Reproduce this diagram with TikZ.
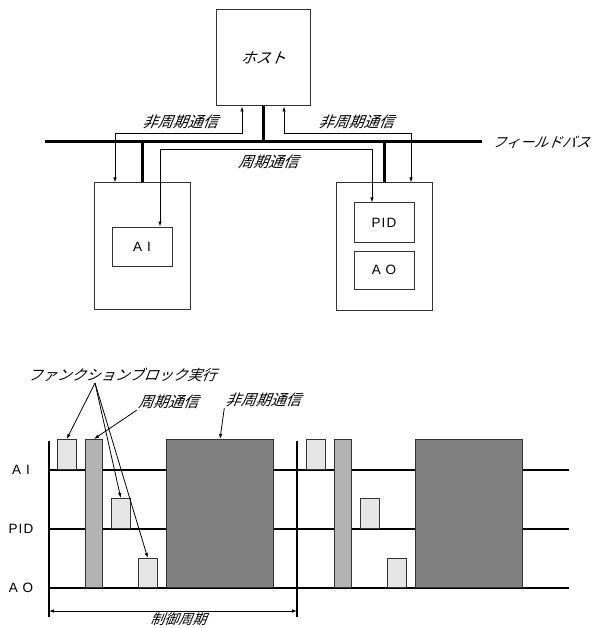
\documentclass[tikz,border=0pt]{standalone}
\usepackage{fontspec}
\setsansfont{Liberation Sans}
\newfontfamily\jpfont[FakeSlant=0.4]{Noto Sans CJK JP}
\newfontfamily\labfont[LetterSpace=8]{Liberation Sans}
\usetikzlibrary{arrows.meta}
\definecolor{ink}{HTML}{333333}
\definecolor{fbgray}{HTML}{E6E6E6}
\definecolor{cycgray}{HTML}{B3B3B3}
\definecolor{asgray}{HTML}{808080}

\begin{document}
\begin{tikzpicture}[x=1pt,y=-1pt,>={Latex[length=5pt,width=3.5pt]},
  box/.style={draw=ink,line width=1pt,inner sep=0pt},
  bus/.style={line width=3pt},
  wire/.style={line width=0.8pt},
  jp/.style={font=\jpfont\fontsize{15}{15}\selectfont,inner sep=1pt},
  lab/.style={font=\labfont\fontsize{13.5}{14}\selectfont},
  row/.style={line width=1.2pt},
  fb/.style={box,fill=fbgray,anchor=south west,minimum width=18.5pt},
  cyc/.style={box,fill=cycgray,anchor=south west,minimum width=17pt,minimum height=148pt},
  async/.style={box,fill=asgray,anchor=south west,minimum width=107pt,minimum height=148pt}]
 \useasboundingbox (0,0) rectangle (596,628);
 \node[box,jp,minimum width=94pt,minimum height=96pt] (host) at (263,58) {ホスト};
 \node[box,minimum width=96pt,minimum height=126pt] (devL) at (142,246) {};
 \node[box,minimum width=96pt,minimum height=127pt] (devR) at (384,246.5) {};
 \node[box,lab,minimum width=60pt,minimum height=39pt] (ai) at (142,246.5) {A I};
 \node[box,lab,minimum width=60pt,minimum height=39pt] (pid) at (384,222.5) {PID};
 \node[box,lab,minimum width=60pt,minimum height=38pt] (ao) at (384,270) {A O};
 \coordinate (busL) at (45,142);
 \coordinate (busR) at (482,142);
 \draw[bus] (busL) -- (busR);
 \node[jp,font=\jpfont\fontsize{14}{14}\selectfont,anchor=west] (fbus) at (491,142) {フィールドバス};
 \draw[bus] (host.south) -- (host.south |- busL);
 \draw[bus] (devL.north) -- (devL.north |- busL);
 \draw[bus] (devR.north) -- (devR.north |- busL);
 \draw[wire,<->] ([xshift=-21pt]host.south) -- ++(0,27) -| ([xshift=-27pt]devL.north);
 \draw[wire,<->] ([xshift=21pt]host.south) -- ++(0,27) -| ([xshift=27pt]devR.north);
 \draw[wire,<->] ([xshift=18pt]ai.north) -- ++(0,-77) -| ([xshift=-12pt]pid.north);
 \node[jp] (asyncL) at (180,122) {非周期通信};
 \node[jp] (asyncR) at (356,122) {非周期通信};
 \node[jp] (cycT) at (268,162) {周期通信};

 \foreach \n/\y/\t in {ai/470/A I,pid/529/PID,ao/588/A O} {
   \draw[row] (49,\y) -- (569,\y);
   \node[lab] (t\n) at (21,\y) {\t};
 }
 \foreach \x in {49,297}
   \draw[row] (\x,441) -- (\x,617);
 \foreach \p/\k in {0/1,249/2} {
   \node[fb,minimum height=30pt] (fbA\k) at (57+\p,470) {};
   \node[cyc] (cyc\k) at (85+\p,588) {};
   \node[fb,minimum height=30pt] (fbP\k) at (111+\p,529) {};
   \node[fb,minimum height=29pt] (fbO\k) at (138+\p,588) {};
   \node[async] (as\k) at (166+\p,588) {};
 }
 \coordinate (c0) at (49,611);
 \coordinate (c1) at (297,611);
 \draw[wire,<->] (c0) -- (c1);
 \node[jp,font=\jpfont\fontsize{14}{14}\selectfont] (ctl) at (178,619) {制御周期};

 \node[jp,font=\jpfont\fontsize{14.5}{15}\selectfont] (fbl) at (122,375) {ファンクションブロック実行};
 \foreach \t in {fbA1,fbP1,fbO1}
   \draw[wire,->] ([xshift=-27pt]fbl.south) -- (\t.north);
 \node[jp] (cyl) at (168,402) {周期通信};
 \draw[wire,->] (cyl.south west) -- (cyc1.north);
 \node[jp] (asl) at (263,400) {非周期通信};
 \draw[wire,->] (asl.south west) -- (as1.north);
\end{tikzpicture}
\end{document}
